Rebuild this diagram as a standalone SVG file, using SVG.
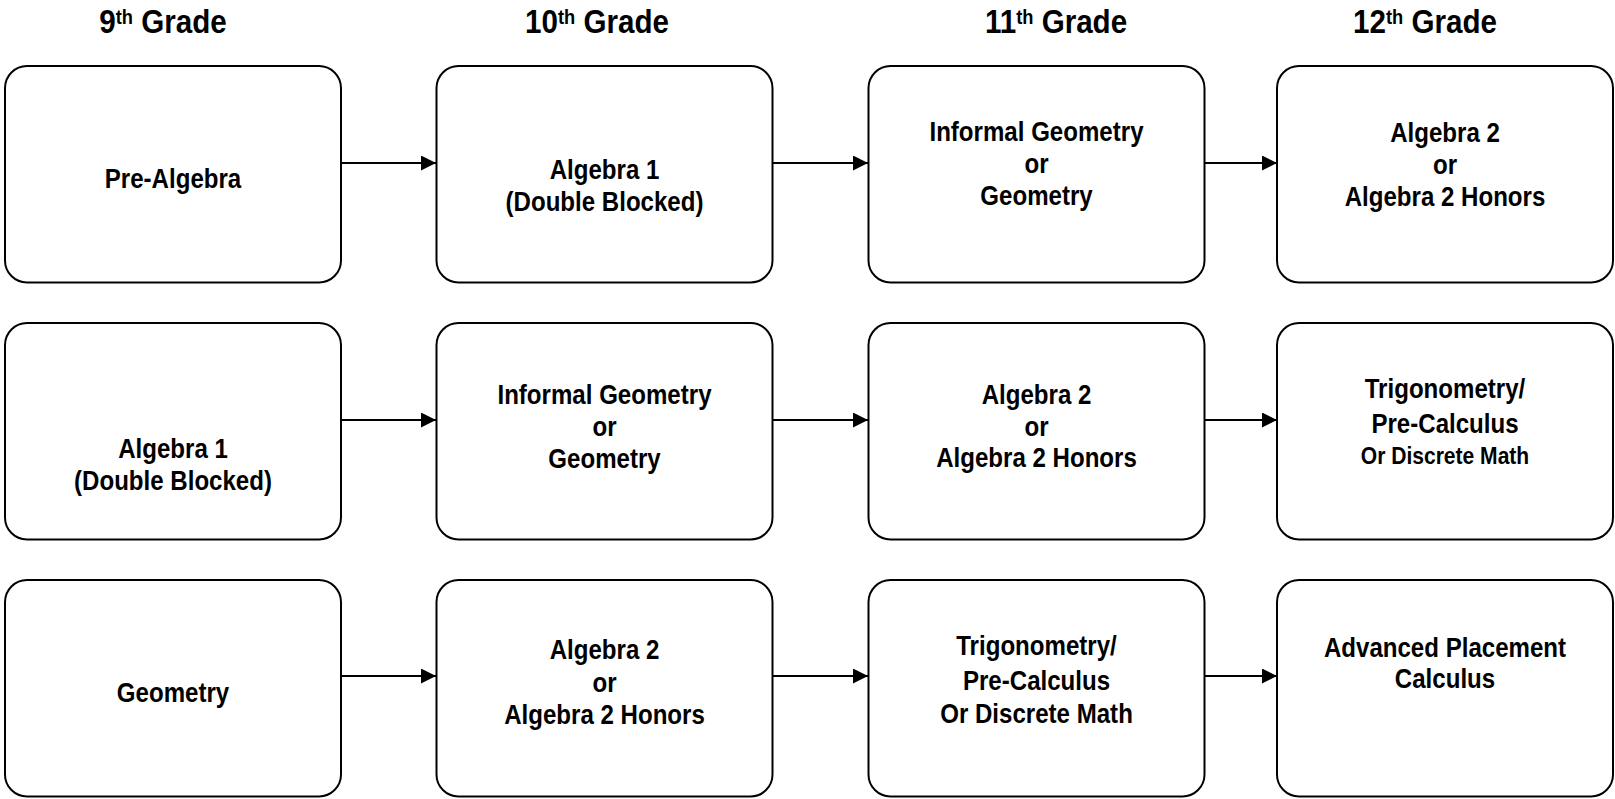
<svg xmlns="http://www.w3.org/2000/svg" width="1615" height="799" viewBox="0 0 1615 799">
<style>
text{font-family:"Liberation Sans",Arial,sans-serif;font-weight:bold;fill:#000;text-anchor:middle}
.t{font-size:34px}
.sup{font-size:21px}
.b{font-size:28px}
.s{font-size:24.5px}
.box{fill:#fff;stroke:#000;stroke-width:2}
.ar{stroke:#000;stroke-width:2;fill:none}
</style>
<defs>
<marker id="ah" markerWidth="16" markerHeight="16" refX="15" refY="7.5" orient="auto" markerUnits="userSpaceOnUse">
<path d="M0,0 L15,7.5 L0,15 Z" fill="#000"/>
</marker>
</defs>
<rect width="1615" height="799" fill="#fff"/>
<g id="titles">
<g transform="translate(163 0) scale(0.87 1)"><text class="t" x="0" y="33">9<tspan class="sup" dy="-9">th</tspan><tspan dy="9"> Grade</tspan></text></g>
<g transform="translate(597 0) scale(0.87 1)"><text class="t" x="0" y="33">10<tspan class="sup" dy="-9">th</tspan><tspan dy="9"> Grade</tspan></text></g>
<g transform="translate(1056 0) scale(0.87 1)"><text class="t" x="0" y="33">11<tspan class="sup" dy="-9">th</tspan><tspan dy="9"> Grade</tspan></text></g>
<g transform="translate(1425 0) scale(0.87 1)"><text class="t" x="0" y="33">12<tspan class="sup" dy="-9">th</tspan><tspan dy="9"> Grade</tspan></text></g>
</g>
<g id="connectors">
<line class="ar" x1="341" y1="163" x2="436" y2="163" marker-end="url(#ah)"/>
<line class="ar" x1="773" y1="163" x2="868" y2="163" marker-end="url(#ah)"/>
<line class="ar" x1="1205" y1="163" x2="1277" y2="163" marker-end="url(#ah)"/>
<line class="ar" x1="341" y1="420" x2="436" y2="420" marker-end="url(#ah)"/>
<line class="ar" x1="773" y1="420" x2="868" y2="420" marker-end="url(#ah)"/>
<line class="ar" x1="1205" y1="420" x2="1277" y2="420" marker-end="url(#ah)"/>
<line class="ar" x1="341" y1="676" x2="436" y2="676" marker-end="url(#ah)"/>
<line class="ar" x1="773" y1="676" x2="868" y2="676" marker-end="url(#ah)"/>
<line class="ar" x1="1205" y1="676" x2="1277" y2="676" marker-end="url(#ah)"/>
</g>
<g id="r1c1"><rect class="box" x="5" y="66" width="336" height="216.5" rx="22"/>
<g transform="translate(173 0) scale(0.86 1)"><text class="b" x="0" y="188">Pre-Algebra</text></g></g>
<g id="r1c2"><rect class="box" x="436.5" y="66" width="336" height="216.5" rx="22"/>
<g transform="translate(604.5 0) scale(0.86 1)"><text class="b" x="0" y="179">Algebra 1</text><text class="b" x="0" y="211">(Double Blocked)</text></g></g>
<g id="r1c3"><rect class="box" x="868.5" y="66" width="336" height="216.5" rx="22"/>
<g transform="translate(1036.5 0) scale(0.86 1)"><text class="b" x="0" y="141">Informal Geometry</text><text class="b" x="0" y="173">or</text><text class="b" x="0" y="205">Geometry</text></g></g>
<g id="r1c4"><rect class="box" x="1277" y="66" width="336" height="216.5" rx="22"/>
<g transform="translate(1445 0) scale(0.86 1)"><text class="b" x="0" y="142">Algebra 2</text><text class="b" x="0" y="174">or</text><text class="b" x="0" y="206">Algebra 2 Honors</text></g></g>
<g id="r2c1"><rect class="box" x="5" y="323" width="336" height="216.5" rx="22"/>
<g transform="translate(173 0) scale(0.86 1)"><text class="b" x="0" y="458">Algebra 1</text><text class="b" x="0" y="490">(Double Blocked)</text></g></g>
<g id="r2c2"><rect class="box" x="436.5" y="323" width="336" height="216.5" rx="22"/>
<g transform="translate(604.5 0) scale(0.86 1)"><text class="b" x="0" y="404">Informal Geometry</text><text class="b" x="0" y="436">or</text><text class="b" x="0" y="468">Geometry</text></g></g>
<g id="r2c3"><rect class="box" x="868.5" y="323" width="336" height="216.5" rx="22"/>
<g transform="translate(1036.5 0) scale(0.86 1)"><text class="b" x="0" y="404">Algebra 2</text><text class="b" x="0" y="436">or</text><text class="b" x="0" y="467">Algebra 2 Honors</text></g></g>
<g id="r2c4"><rect class="box" x="1277" y="323" width="336" height="216.5" rx="22"/>
<g transform="translate(1445 0) scale(0.86 1)"><text class="b" x="0" y="398">Trigonometry/</text><text class="b" x="0" y="433">Pre-Calculus</text><text class="s" x="0" y="464">Or Discrete Math</text></g></g>
<g id="r3c1"><rect class="box" x="5" y="580" width="336" height="216.5" rx="22"/>
<g transform="translate(173 0) scale(0.86 1)"><text class="b" x="0" y="702">Geometry</text></g></g>
<g id="r3c2"><rect class="box" x="436.5" y="580" width="336" height="216.5" rx="22"/>
<g transform="translate(604.5 0) scale(0.86 1)"><text class="b" x="0" y="659">Algebra 2</text><text class="b" x="0" y="692">or</text><text class="b" x="0" y="724">Algebra 2 Honors</text></g></g>
<g id="r3c3"><rect class="box" x="868.5" y="580" width="336" height="216.5" rx="22"/>
<g transform="translate(1036.5 0) scale(0.86 1)"><text class="b" x="0" y="655">Trigonometry/</text><text class="b" x="0" y="690">Pre-Calculus</text><text class="b" x="0" y="723">Or Discrete Math</text></g></g>
<g id="r3c4"><rect class="box" x="1277" y="580" width="336" height="216.5" rx="22"/>
<g transform="translate(1445 0) scale(0.86 1)"><text class="b" x="0" y="657">Advanced Placement</text><text class="b" x="0" y="688">Calculus</text></g></g>
</svg>
